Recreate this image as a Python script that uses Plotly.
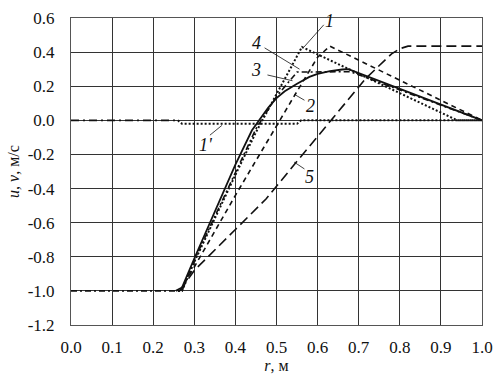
import plotly.graph_objects as go

# ---- data ----
r1 = [0.26, 0.27, 0.30, 0.35, 0.40, 0.45, 0.50, 0.562, 0.94, 1.0]
u1 = [-1.0, -1.0, -0.83, -0.57, -0.32, -0.07, 0.15, 0.43, 0.0, 0.0]

r1p = [0.26, 0.27, 0.55, 0.56, 1.0]
v1p = [0.0, -0.02, -0.02, 0.0, 0.0]

r2 = [0.265, 0.30, 0.40, 0.50, 0.54, 0.60, 0.63, 1.0]
u2 = [-1.0, -0.86, -0.44, -0.03, 0.13, 0.37, 0.435, 0.0]

r3 = [0.255, 0.27, 0.30, 0.35, 0.40, 0.44, 0.46, 0.48, 0.50, 0.52, 0.55, 0.58, 0.60, 0.63, 0.66, 0.675, 1.0]
u3 = [-1.0, -0.98, -0.81, -0.54, -0.26, -0.06, 0.01, 0.075, 0.13, 0.17, 0.215, 0.255, 0.272, 0.288, 0.298, 0.30, 0.0]

r4 = [0.0, 0.27, 0.30, 0.35, 0.40, 0.45, 0.50, 0.55, 0.68, 1.0]
u4 = [-1.0, -1.0, -0.82, -0.56, -0.30, -0.05, 0.14, 0.283, 0.285, 0.0]

r5 = [0.265, 0.30, 0.40, 0.475, 0.55, 0.637, 0.717, 0.78, 0.80, 0.82, 1.0]
u5 = [-1.0, -0.88, -0.64, -0.46, -0.24, 0.01, 0.245, 0.39, 0.42, 0.435, 0.435]

r0 = [0.0, 0.26]
v0 = [0.0, 0.0]

x_ticks = [0.0, 0.1, 0.2, 0.3, 0.4, 0.5, 0.6, 0.7, 0.8, 0.9, 1.0]
x_tick_labels = ["0.0", "0.1", "0.2", "0.3", "0.4", "0.5", "0.6", "0.7", "0.8", "0.9", "1.0"]
y_ticks = [-1.2, -1.0, -0.8, -0.6, -0.4, -0.2, 0.0, 0.2, 0.4, 0.6]
y_tick_labels = ["-1.2", "-1.0", "-0.8", "-0.6", "-0.4", "-0.2", "0.0", "0.2", "0.4", "0.6"]

# curve labels: text, text position, leader start, leader end
labels = ["1", "4", "3", "2", "1'", "5"]
label_pos = [(0.628, 0.585), (0.451, 0.454), (0.451, 0.294), (0.582, 0.084), (0.328, -0.144), (0.580, -0.331)]
leader_from = [(0.615, 0.56), (0.471, 0.425), (0.478, 0.266), (0.568, 0.118), (0.338, -0.087), (0.568, -0.285)]
leader_to = [(0.567, 0.43), (0.556, 0.30), (0.539, 0.232), (0.543, 0.153), (0.367, -0.030), (0.543, -0.245)]

FONT = "Liberation Serif, serif"
BLACK = "#111111"

fig = go.Figure()

def add(x, y, dash, width=1.6):
    fig.add_trace(go.Scatter(x=x, y=y, mode="lines",
                             line=dict(color=BLACK, width=width, dash=dash),
                             showlegend=False, hoverinfo="skip"))

add(r0, v0, "8px,4px,2px,4px")
add(r5, u5, "10px,5px")
add(r2, u2, "5px,4px")
add(r1p, v1p, "2px,2px", 2)
add(r1, u1, "2px,2px", 2)
add(r4, u4, "6px,3px,2px,3px")
add(r3, u3, "solid", 1.8)

for t, (tx, ty), (fx, fy), (ex, ey) in zip(labels, label_pos, leader_from, leader_to):
    fig.add_trace(go.Scatter(x=[fx, ex], y=[fy, ey], mode="lines",
                             line=dict(color=BLACK, width=0.8),
                             showlegend=False, hoverinfo="skip"))
    fig.add_annotation(x=tx, y=ty, text="<i>%s</i>" % t, showarrow=False,
                       font=dict(family=FONT, size=18, color=BLACK))

fig.update_layout(
    width=502, height=380,
    margin=dict(l=71, r=19, t=9, b=54),
    paper_bgcolor="white", plot_bgcolor="white",
    font=dict(family=FONT, size=17, color=BLACK),
    xaxis=dict(range=[0, 1], tickvals=x_ticks, ticktext=x_tick_labels,
               showgrid=True, gridcolor="#333333", gridwidth=1,
               showline=True, linecolor="#555555", mirror=True, zeroline=False,
               ticks="", ticklabelstandoff=7, tickfont=dict(family=FONT, size=17),
               title=dict(text="<i>r</i>, м", font=dict(family=FONT, size=16), standoff=2)),
    yaxis=dict(range=[-1.2, 0.6], tickvals=y_ticks, ticktext=y_tick_labels,
               showgrid=True, gridcolor="#333333", gridwidth=1,
               showline=True, linecolor="#555555", mirror=True, zeroline=False,
               ticks="", ticklabelstandoff=12, tickfont=dict(family=FONT, size=17),
               title=dict(text="<i>u</i>, <i>v</i>, м/с", font=dict(family=FONT, size=16), standoff=4)),
)

fig.write_html("out.html", config={"displayModeBar": False},
               post_script="document.body.style.margin='0';document.body.style.overflow='hidden';")
